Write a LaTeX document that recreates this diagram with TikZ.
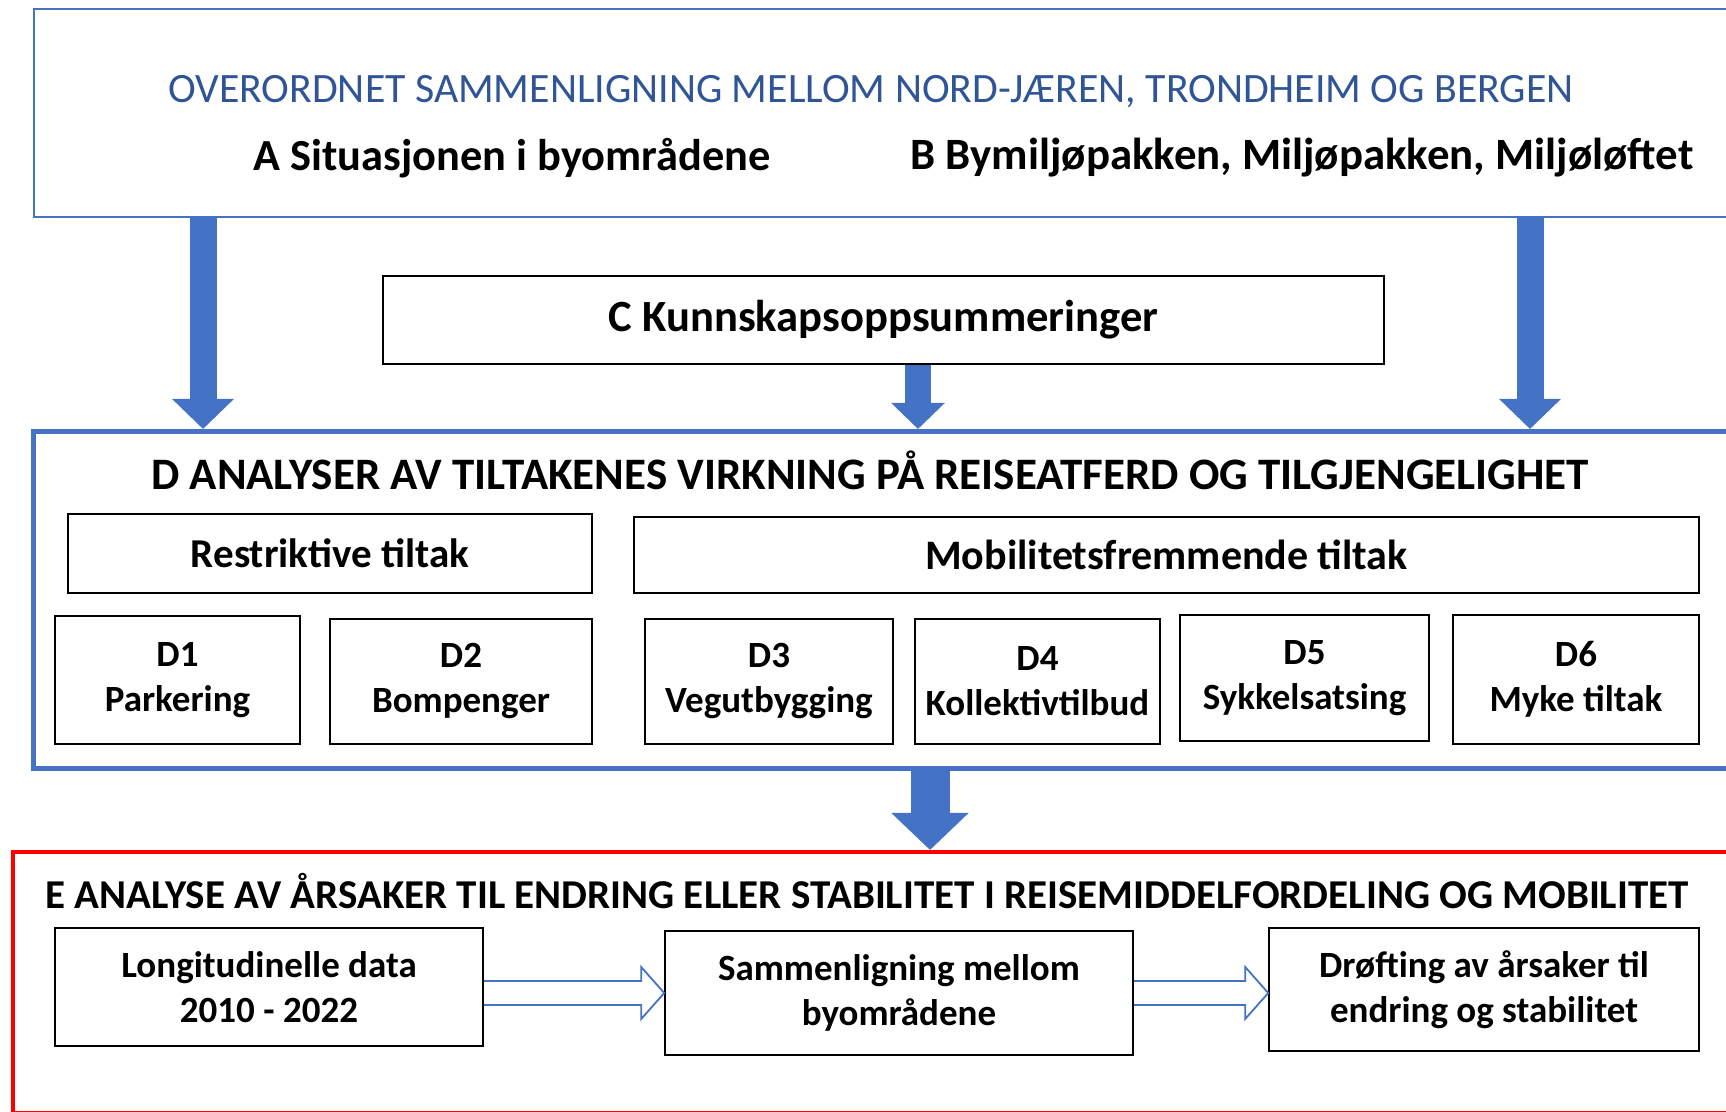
\documentclass[tikz,border=0pt]{standalone}
\usepackage{fontspec}
\setmainfont{Carlito}
\usetikzlibrary{arrows.meta,calc}
\definecolor{arrowblue}{HTML}{4472C4}
\definecolor{titleblue}{HTML}{2F5597}
\definecolor{framered}{HTML}{FF0000}
\begin{document}
\begin{tikzpicture}[x=1pt,y=1pt,
    box/.style 2 args={draw=black,line width=1.6pt,minimum width=#1,minimum height=#2,
        inner sep=0pt,align=center,font=\bfseries\fontsize{37}{45}\selectfont},
    frame/.style={anchor=north west,inner sep=0pt},
    heading/.style={font=\bfseries\fontsize{#1}{48}\selectfont},
    bigarrow/.style={arrowblue,line width=#1},
    hollow/.style={draw=arrowblue,line width=1.8pt,line join=miter}]
    \useasboundingbox (0,0) rectangle (1726,1111);
    \clip (0,0) rectangle (1726,1111);
    % frames
    \node[frame,draw=arrowblue,line width=2pt,minimum width=1760pt,minimum height=208pt] (top) at (33,1103) {};
    \node[frame,draw=arrowblue,line width=5pt,minimum width=1760pt,minimum height=337pt] (dbox) at (31,682) {};
    \node[frame,draw=framered,line width=4pt,minimum width=1760pt,minimum height=261pt] (ebox) at (11,261) {};
    % top
    \node[font=\fontsize{41.8}{48}\selectfont,text=titleblue] (title) at (871,1019) {OVERORDNET SAMMENLIGNING MELLOM NORD-JÆREN, TRONDHEIM OG BERGEN};
    \node[heading=44.4] (sitA) at (512,953) {A Situasjonen i byområdene};
    \node[heading=44.8] (sitB) at (1302,953) {B Bymiljøpakken, Miljøpakken, Miljøløftet};
    \node[box={1001pt}{88pt},heading=44.6] (csum) at (883.5,791) {C Kunnskapsoppsummeringer};
    % D
    \node[heading=45] (dtitle) at (870,641) {D ANALYSER AV TILTAKENES VIRKNING PÅ REISEATFERD OG TILGJENGELIGHET};
    \node[box={524pt}{79pt},heading=41] (restr) at (330,557.5) {Restriktive tiltak};
    \node[box={1065pt}{76pt},heading=42] (mobil) at (1166.5,556) {Mobilitetsfremmende tiltak};
    \node[box={245pt}{128pt}] (d1) at (177.5,431) {D1\\Parkering};
    \node[box={262pt}{125pt}] (d2) at (461,429.5) {D2\\Bompenger};
    \node[box={248pt}{125pt}] (d3) at (769,429.5) {D3\\Vegutbygging};
    \node[box={245pt}{125pt}] (d4) at (1037.5,429.5) {D4\\Kollektivtilbud};
    \node[box={249pt}{126pt}] (d5) at (1304.5,433) {D5\\Sykkelsatsing};
    \node[box={246pt}{129pt}] (d6) at (1576,431.5) {D6\\Myke tiltak};
    % E
    \node[heading=41] (etitle) at (867,220) {E ANALYSE AV ÅRSAKER TIL ENDRING ELLER STABILITET I REISEMIDDELFORDELING OG MOBILITET};
    \node[box={428pt}{118pt}] (e1) at (269,124) {Longitudinelle data\\2010 - 2022};
    \node[box={468pt}{124pt}] (e2) at (899,118) {Sammenligning mellom\\byområdene};
    \node[box={430pt}{123pt}] (e3) at (1484,121.5) {Drøfting av årsaker til\\endring og stabilitet};
    % arrows
    \coordinate (xa) at (203,0);
    \coordinate (xb) at (1530,0);
    \coordinate (xc) at (918,0);
    \coordinate (xd) at (930,0);
    \draw[bigarrow=27pt,-{Triangle[width=60pt,length=30pt]}] (top.south -| xa) -- (dbox.north -| xa);
    \draw[bigarrow=27pt,-{Triangle[width=60pt,length=30pt]}] (top.south -| xb) -- (dbox.north -| xb);
    \draw[bigarrow=26pt,-{Triangle[width=52pt,length=26pt]}] (csum.south -| xc) -- (dbox.north -| xc);
    \draw[bigarrow=39pt,-{Triangle[width=75pt,length=37pt]}] (dbox.south -| xd) -- (ebox.north -| xd);
    \draw[hollow] ($(e1.east |- e2.west)+(0,12)$) -- ($(e2.west)+(-23,12)$) -- ++(0,14)
        -- (e2.west) -- ++(-23,-26) -- ++(0,14) -- ($(e1.east |- e2.west)+(0,-12)$);
    \draw[hollow] ($(e2.east)+(0,12)$) -- ($(e3.west |- e2.east)+(-23,12)$) -- ++(0,14)
        -- (e3.west |- e2.east) -- ++(-23,-26) -- ++(0,14) -- ($(e2.east)+(0,-12)$);
\end{tikzpicture}
\end{document}
